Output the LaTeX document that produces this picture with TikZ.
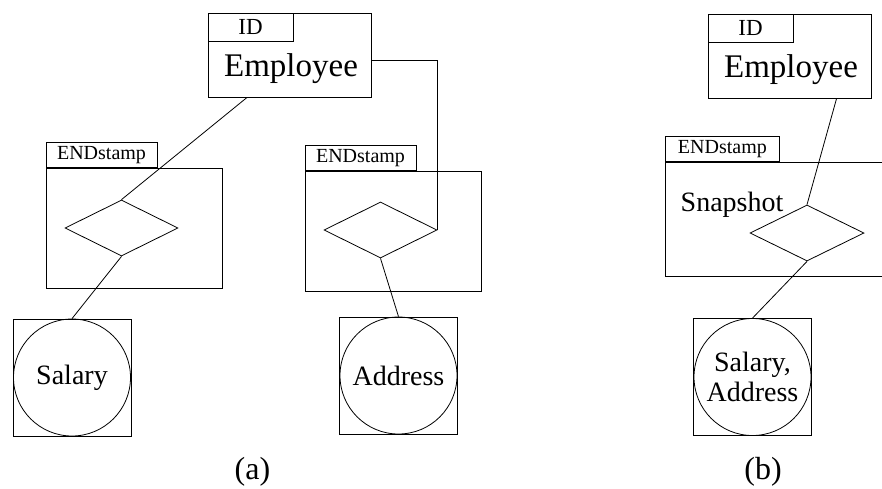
\documentclass[tikz,border=0pt]{standalone}
\usepackage{fontspec}
\setmainfont{Liberation Serif}
\usetikzlibrary{shapes.geometric, positioning}

\tikzset{
  entity/.style={draw, minimum width=163pt, minimum height=84pt, inner sep=0pt},
  keytab/.style={draw, anchor=north west, minimum width=85pt, minimum height=28pt, inner sep=0pt, font=\fontsize{23}{23}\selectfont},
  stampbox/.style={draw, minimum width=176pt, minimum height=120pt, inner sep=0pt},
  stamptab/.style={draw, anchor=south west, minimum width=111pt, minimum height=25pt, inner sep=0pt, font=\fontsize{20}{20}\selectfont},
  rel/.style={draw, diamond, minimum width=113pt, minimum height=56pt, inner sep=0pt},
  attrbox/.style={draw, minimum width=118pt, minimum height=117pt, inner sep=0pt},
  attr/.style={draw, circle, minimum size=117pt, inner sep=0pt, align=center, font=\fontsize{28}{30}\selectfont},
  bigtext/.style={font=\fontsize{33}{33}\selectfont},
  caption/.style={font=\fontsize{32}{32}\selectfont},
}

\begin{document}
\begin{tikzpicture}[x=1pt, y=-1pt, line width=0.8pt]
\useasboundingbox (0,0) rectangle (882,488);

% (a)
\node[entity] (emp1) at (289.5,55) {};
\node[keytab] (id1) at (emp1.north west) {ID};
\node[bigtext, anchor=base] (name1) at (291,76) {Employee};

\node[stampbox] (box1) at (134,228) {};
\node[stamptab] (tab1) at (box1.north west) {ENDstamp};
\node[rel] (d1) at (121.5,228) {};

\node[stampbox] (box2) at (393,231.5) {};
\node[stamptab] (tab2) at (box2.north west) {ENDstamp};
\node[rel] (d2) at (380.5,230) {};

\node[attrbox] (sbox) at (72,377.5) {};
\node[attr] (sal) at (72,377.5) {Salary};
\node[attrbox] (abox) at (398.5,375.5) {};
\node[attr] (addr) at (398.5,375.5) {Address};

\draw (emp1.225) -- (d1.north);
\draw (d1.south) -- (sal.north);
\draw (emp1.-4) -| (d2.east);
\draw (d2.south) -- (addr.north);

\node[caption] (capa) at (252.5,472) {(a)};

% (b)
\node[entity] (emp2) at (789.5,56) {};
\node[keytab] (id2) at (emp2.north west) {ID};
\node[bigtext, anchor=base] (name2) at (791,77) {Employee};

\draw (882,162) -| (665,276) -- (882,276);
\node[stamptab, minimum width=114pt] (tab3) at (665,162) {ENDstamp};
\node[font=\fontsize{28}{28}\selectfont, anchor=base west] (snap) at (677,211) {Snapshot};
\node[rel, minimum width=114pt] (d3) at (807,233) {};

\node[attrbox] (sabox) at (752.5,377) {};
\node[attr] (saladdr) at (752.5,377) {Salary,\\Address};

\draw (emp2.-42) -- (d3.north);
\draw (d3.south) -- (saladdr.north);

\node[caption] (capb) at (763,472) {(b)};
\end{tikzpicture}
\end{document}
